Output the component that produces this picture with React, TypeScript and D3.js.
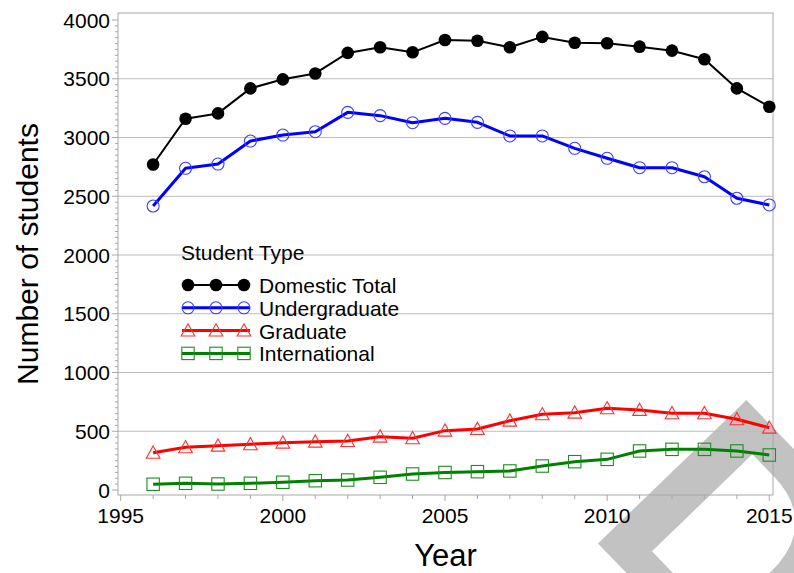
import React from "react";
import * as d3 from "d3";

const years = [1996,1997,1998,1999,2000,2001,2002,2003,2004,2005,2006,2007,2008,2009,2010,2011,2012,2013,2014,2015];
const domesticTotal = [2770,3160,3205,3418,3495,3545,3720,3768,3725,3830,3824,3768,3856,3807,3802,3773,3739,3666,3418,3262];
const undergraduate = [2417,2738,2774,2970,3021,3049,3214,3186,3126,3163,3129,3013,3013,2908,2823,2743,2743,2666,2483,2426];
const graduate = [317,363,377,389,403,411,417,454,440,505,519,590,644,658,695,681,653,653,602,530];
const international = [49,57,51,57,66,79,85,108,136,149,156,162,204,241,261,332,346,346,332,298];
const seriesNames = ["Domestic Total","Undergraduate","Graduate","International"];
const xTicks = [1995,2000,2005,2010,2015];
const yTicks = [0,500,1000,1500,2000,2500,3000,3500,4000];

const W = 794, H = 573;
const FONT = "'Liberation Sans', Arial, sans-serif";

type Style = { name: string; values: number[]; color: string; mcolor: string; width: number; marker: string };
const series: Style[] = [
  { name: seriesNames[0], values: domesticTotal, color: "#000000", mcolor: "#000000", width: 2, marker: "circleFilled" },
  { name: seriesNames[1], values: undergraduate, color: "#0000ff", mcolor: "#3c3cff", width: 3, marker: "circle" },
  { name: seriesNames[2], values: graduate, color: "#ff0000", mcolor: "#ff3030", width: 3, marker: "triangle" },
  { name: seriesNames[3], values: international, color: "#008000", mcolor: "#1c8c1c", width: 3, marker: "square" },
];

function Marker({ type, x, y, color }: { type: string; x: number; y: number; color: string }) {
  if (type === "circleFilled") return <circle cx={x} cy={y} r={6.3} fill={color} />;
  if (type === "circle") return <circle cx={x} cy={y} r={6} fill="none" stroke={color} strokeWidth={1.1} />;
  if (type === "triangle") {
    const s = 6.8;
    const p = `${x},${y - s} ${x + s},${y + s * 0.8} ${x - s},${y + s * 0.8}`;
    return <polygon points={p} fill="none" stroke={color} strokeWidth={1.1} />;
  }
  return <rect x={x - 6.2} y={y - 6.2} width={12.4} height={12.4} fill="none" stroke={color} strokeWidth={1.1} />;
}

export default function App() {
  const left = 118, right = 773, top = 13, bottom = 495;
  const x = d3.scaleLinear().domain([1995, 2015]).range([120.7, 769.3]);
  const y = d3.scaleLinear().domain([0, 4000]).range([490, 20]);
  const line = d3.line<number>().x((_, i) => x(years[i])).y((v) => y(v));
  const minorY = d3.range(0, 4001, 50).filter((v) => v % 500 !== 0);
  const minorX = d3.range(1995, 2016, 1).filter((v) => v % 5 !== 0);
  const grid = "#bcbcbc";
  const axisCol = "#a8a8a8";
  const legX = 182, legY0 = 285, legDy = 22.8;
  return (
    <svg width={W} height={H} style={{ position: "absolute", left: 0, top: 0, background: "#fff" }} fontFamily={FONT}>
      <rect x={0} y={0} width={W} height={H} fill="#fff" />
      <text transform="translate(584,529) rotate(46)" fontSize={300} fontWeight="bold" fill="#c2c2c2">DRAFT</text>
      {yTicks.filter((v) => v > 0 && v < 4000).map((v) => (
        <line key={"g" + v} x1={left} x2={right} y1={y(v)} y2={y(v)} stroke={grid} strokeWidth={1} />
      ))}
      <rect x={left} y={top} width={right - left} height={bottom - top} fill="none" stroke={axisCol} strokeWidth={1} />
      {yTicks.map((v) => (
        <g key={"yt" + v}>
          <line x1={left - 6} x2={left} y1={y(v)} y2={y(v)} stroke={axisCol} />
          <text x={left - 8} y={y(v)} dy="0.36em" textAnchor="end" fontSize={21} fill="#000">{v}</text>
        </g>
      ))}
      {minorY.map((v) => (
        <line key={"ym" + v} x1={left - 3} x2={left} y1={y(v)} y2={y(v)} stroke={axisCol} />
      ))}
      {xTicks.map((v) => (
        <g key={"xt" + v}>
          <line x1={x(v)} x2={x(v)} y1={bottom} y2={bottom + 6} stroke={axisCol} />
          <text x={x(v)} y={523} textAnchor="middle" fontSize={21} fill="#000">{v}</text>
        </g>
      ))}
      {minorX.map((v) => (
        <line key={"xm" + v} x1={x(v)} x2={x(v)} y1={bottom} y2={bottom + 4} stroke={axisCol} />
      ))}
      <text transform={`translate(38,254) rotate(-90)`} textAnchor="middle" fontSize={30} fill="#000">Number of students</text>
      <text x={445.5} y={566} textAnchor="middle" fontSize={31} fill="#000">Year</text>
      {series.slice().reverse().map((s) => (
        <g key={s.name}>
          <path d={line(s.values) || ""} fill="none" stroke={s.color} strokeWidth={s.width} strokeLinejoin="round" />
          {s.values.map((v, i) => (
            <Marker key={i} type={s.marker} x={x(years[i])} y={y(v)} color={s.mcolor} />
          ))}
        </g>
      ))}
      <text x={181} y={260} fontSize={21} fill="#000">Student Type</text>
      {series.map((s, k) => {
        const ly = legY0 + k * legDy;
        return (
          <g key={"l" + s.name}>
            <line x1={legX} x2={250} y1={ly} y2={ly} stroke={s.color} strokeWidth={s.width} />
            {[188, 216, 244].map((mx) => (
              <Marker key={mx} type={s.marker} x={mx} y={ly} color={s.mcolor} />
            ))}
            <text x={259} y={ly + 8} fontSize={21} fill="#000">{s.name}</text>
          </g>
        );
      })}
    </svg>
  );
}
